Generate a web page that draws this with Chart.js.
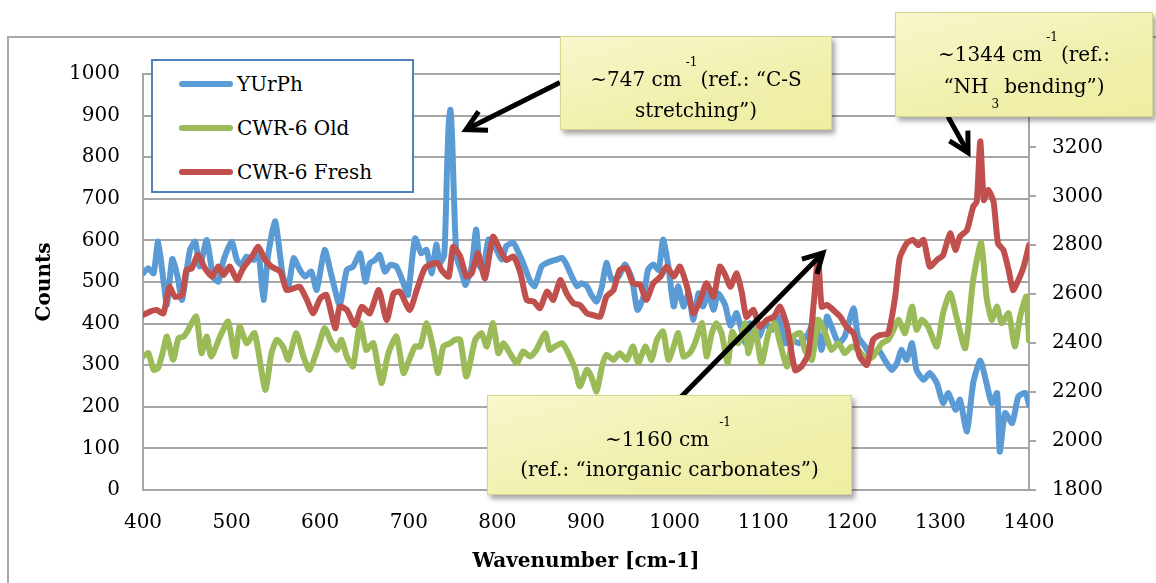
<!DOCTYPE html>
<html>
<head>
<meta charset="utf-8">
<script src="https://cdn.jsdelivr.net/npm/chart.js@4.4.1/dist/chart.umd.min.js"></script>
<style>
html,body{margin:0;padding:0;background:#fff;}
#wrap{position:relative;width:1156px;height:583px;overflow:hidden;font-family:'DejaVu Serif',serif;color:#000;}
#frame{position:absolute;left:7px;top:36px;width:1300px;height:700px;border:2px solid #a9a9a9;}
#c{position:absolute;left:0;top:0;}
.legend{position:absolute;left:151px;top:59px;width:259px;height:130px;border:2px solid #4f81bd;background:#fff;}
.item{position:absolute;left:26px;height:24px;font-size:20px;line-height:24px;width:230px;}
.sw{position:absolute;left:0;top:9px;width:54px;height:6px;border-radius:3px;}
.item span{position:absolute;left:58px;white-space:nowrap;}
.note{position:absolute;box-sizing:border-box;background:linear-gradient(165deg,#f7f7cc 0%,#f0f0ad 60%,#eeeea2 100%);border:1px solid #d6d690;box-shadow:3px 4px 5px rgba(0,0,0,0.35);font-size:20px;text-align:center;white-space:nowrap;}
.sup{position:relative;top:-20px;font-size:12px;margin:0 3px 0 4px;}
.sub{position:relative;top:15px;font-size:12px;margin:0 5px 0 3px;}
</style>
</head>
<body>
<div id="wrap">
  <div id="frame"></div>
  <canvas id="c" width="1156" height="583"></canvas>
  <div class="legend" id="legend"></div>
  <div class="note" style="left:560px;top:36px;width:272px;height:94px;padding-top:28px;line-height:28px;">
    <div>~747 cm<span class="sup">-1</span>(ref.: “C-S</div>
    <div>stretching”)</div>
  </div>
  <div class="note" style="left:895px;top:12px;width:258px;height:105px;padding-top:27px;line-height:29px;">
    <div>~1344 cm<span class="sup">-1</span>(ref.:</div>
    <div>“NH<span class="sub">3</span>bending”)</div>
  </div>
  <div class="note" style="left:487px;top:395px;width:365px;height:100px;padding-top:30px;line-height:27px;">
    <div>~1160 cm<span class="sup" style="margin-left:10px">-1</span></div>
    <div>(ref.: “inorganic carbonates”)</div>
  </div>
</div>
<script>
// ---- data: [wavenumber, counts] ----
const seriesNames = ['YUrPh', 'CWR-6 Old', 'CWR-6 Fresh'];
const seriesColors = ['#5b9bd5', '#9bbb59', '#c0504d'];

const yurphSpectrum = [[400,521],[406,533],[412,521],[417,597],[423,505],[427,445],[433,555],[439,513],[444,457],[453,577],[459,597],[464,537],[472,601],[479,513],[485,501],[491,553],[500,597],[506,553],[511,541],[517,561],[525,553],[530,577],[536,457],[541,561],[549,646],[554,577],[558,513],[564,489],[570,557],[577,529],[583,513],[590,525],[596,481],[605,577],[613,513],[622,445],[630,529],[637,537],[645,569],[651,501],[656,545],[662,553],[667,565],[673,525],[679,541],[686,537],[694,497],[699,469],[707,605],[714,569],[720,577],[726,521],[731,590],[735,546],[740,565],[743,760],[745,880],[747,914],[749,840],[751,700],[754,560],[760,521],[764,493],[771,538],[776,626],[780,538],[784,530],[790,602],[797,586],[805,554],[810,586],[818,594],[824,570],[829,546],[837,502],[842,490],[850,538],[856,546],[861,550],[867,554],[873,558],[878,542],[884,513],[890,490],[895,497],[901,490],[906,469],[912,453],[918,490],[923,546],[929,506],[937,514],[944,542],[952,506],[958,433],[965,465],[970,529],[976,542],[982,529],[987,602],[993,538],[999,441],[1004,490],[1010,441],[1016,473],[1021,409],[1027,473],[1032,441],[1038,473],[1044,433],[1049,473],[1057,445],[1063,395],[1070,425],[1080,353],[1085,401],[1095,369],[1102,401],[1110,385],[1117,417],[1125,353],[1132,361],[1140,353],[1145,361],[1151,377],[1158,409],[1166,337],[1172,417],[1177,393],[1185,353],[1192,369],[1202,437],[1207,369],[1215,345],[1222,321],[1230,337],[1237,313],[1245,289],[1251,305],[1256,337],[1262,313],[1268,353],[1273,289],[1281,265],[1288,281],[1296,257],[1303,209],[1309,233],[1317,193],[1322,217],[1330,141],[1337,257],[1345,311],[1352,257],[1358,209],[1364,233],[1367,92],[1373,185],[1381,161],[1388,225],[1396,233],[1400,205]];

const cwrOldSpectrum = [[400,321],[406,329],[412,289],[417,293],[423,337],[427,369],[434,313],[440,365],[446,369],[451,385],[460,417],[466,329],[472,369],[477,321],[487,369],[496,405],[504,321],[509,393],[517,353],[526,377],[538,241],[545,329],[551,361],[558,345],[564,313],[573,377],[581,321],[588,289],[598,345],[605,389],[613,353],[619,337],[624,361],[630,321],[637,297],[645,401],[652,337],[660,353],[669,257],[677,329],[686,369],[694,281],[699,305],[707,345],[713,345],[720,401],[728,337],[733,281],[739,345],[747,353],[752,361],[758,361],[765,273],[775,361],[782,377],[788,345],[795,401],[801,329],[807,353],[814,329],[822,305],[829,333],[837,321],[844,337],[854,377],[859,337],[865,345],[873,353],[880,329],[888,289],[893,249],[901,289],[906,273],[912,237],[918,297],[923,325],[931,313],[938,329],[946,313],[953,345],[959,305],[967,345],[974,313],[980,361],[987,381],[993,313],[999,345],[1004,377],[1010,321],[1017,329],[1023,353],[1031,401],[1036,321],[1042,377],[1047,401],[1053,377],[1060,305],[1065,380],[1072,353],[1080,401],[1083,329],[1091,385],[1098,305],[1106,377],[1113,401],[1119,353],[1127,297],[1134,369],[1142,377],[1147,337],[1155,313],[1162,409],[1170,377],[1177,337],[1185,353],[1192,329],[1200,345],[1207,337],[1217,313],[1224,321],[1234,353],[1241,361],[1247,385],[1253,409],[1260,377],[1268,441],[1273,385],[1279,409],[1286,393],[1296,345],[1303,425],[1311,473],[1318,417],[1328,341],[1337,505],[1346,594],[1352,465],[1358,409],[1364,441],[1369,401],[1377,425],[1384,345],[1390,417],[1397,465],[1400,360]];

const cwrFreshSpectrum = [[400,2515],[408,2529],[415,2536],[423,2522],[427,2590],[430,2631],[436,2590],[444,2597],[449,2699],[455,2706],[462,2760],[470,2706],[478,2672],[485,2713],[491,2679],[498,2713],[506,2658],[513,2706],[523,2754],[530,2794],[538,2740],[545,2713],[555,2692],[562,2617],[570,2624],[577,2631],[585,2577],[592,2522],[600,2583],[607,2597],[617,2461],[622,2549],[630,2536],[639,2474],[647,2549],[656,2522],[666,2617],[675,2495],[683,2604],[690,2610],[701,2536],[709,2617],[718,2706],[728,2726],[733,2726],[737,2699],[745,2672],[750,2794],[758,2754],[765,2672],[771,2686],[778,2767],[786,2665],[795,2835],[803,2781],[810,2740],[818,2754],[826,2686],[833,2577],[841,2570],[848,2543],[856,2611],[863,2577],[871,2658],[878,2604],[886,2563],[893,2556],[901,2522],[908,2515],[916,2508],[923,2590],[931,2617],[938,2699],[946,2706],[953,2645],[961,2638],[968,2577],[976,2645],[984,2672],[991,2713],[999,2672],[1006,2713],[1014,2631],[1021,2522],[1029,2577],[1036,2645],[1044,2590],[1051,2713],[1057,2680],[1063,2631],[1070,2685],[1076,2604],[1081,2508],[1089,2536],[1096,2467],[1104,2495],[1112,2508],[1119,2549],[1127,2467],[1136,2290],[1143,2304],[1151,2358],[1157,2563],[1162,2750],[1166,2549],[1172,2556],[1179,2536],[1187,2508],[1194,2467],[1202,2440],[1209,2345],[1217,2311],[1224,2413],[1232,2433],[1241,2440],[1249,2590],[1254,2747],[1262,2808],[1269,2822],[1275,2801],[1281,2822],[1288,2713],[1296,2740],[1303,2760],[1311,2849],[1317,2781],[1322,2835],[1330,2862],[1337,2958],[1341,2978],[1345,3225],[1349,2985],[1354,3026],[1360,2978],[1365,2808],[1371,2781],[1377,2699],[1382,2617],[1388,2658],[1394,2713],[1400,2800]];

// axis ranges / ticks
const xRange = [400, 1400, 100];
const countsRange = [0, 1000, 100];
const freshRange = [1800, 3500, 200];
const xTitle = 'Wavenumber [cm-1]';
const yTitle = 'Counts';

// annotation arrows in data units (wavenumber, counts on left axis)
const arrows = [
  {from:[870.6, 979.5], to:[764.6, 866.4]},
  {from:[1308.6, 897.6], to:[1331.2, 811]},
  {from:[1006, 221], to:[1167.5, 570]}
];

// ---- legend (HTML) ----
const legendEl = document.getElementById('legend');
const legendTops = [11, 55, 99];
seriesNames.forEach((n, i) => {
  const d = document.createElement('div');
  d.className = 'item';
  d.style.top = legendTops[i] + 'px';
  d.innerHTML = '<div class="sw" style="background:' + seriesColors[i] + '"></div><span>' + n + '</span>';
  legendEl.appendChild(d);
});

const toPts = arr => arr.map(p => ({x: p[0], y: p[1]}));
const plainNum = v => String(v);
const tickFont = {family: "'DejaVu Serif', serif", size: 20};
const titleFont = {family: "'DejaVu Serif', serif", size: 20, weight: 'bold'};
const gridGray = '#a6a6a6';

const arrowPlugin = {
  id: 'arrows',
  afterDraw(chart) {
    const {ctx} = chart;
    const xs = chart.scales.x, ys = chart.scales.y;
    ctx.save();
    ctx.strokeStyle = '#000';
    ctx.lineWidth = 5;
    ctx.lineCap = 'butt';
    ctx.lineJoin = 'miter';
    arrows.forEach(a => {
      const x1 = xs.getPixelForValue(a.from[0]), y1 = ys.getPixelForValue(a.from[1]);
      const x2 = xs.getPixelForValue(a.to[0]), y2 = ys.getPixelForValue(a.to[1]);
      const ang = Math.atan2(y1 - y2, x1 - x2);
      ctx.beginPath();
      ctx.moveTo(x1, y1);
      ctx.lineTo(x2 + Math.cos(ang) * 3, y2 + Math.sin(ang) * 3);
      ctx.stroke();
      const hl = 22, ha = 0.5;
      ctx.beginPath();
      ctx.moveTo(x2 + Math.cos(ang + ha) * hl, y2 + Math.sin(ang + ha) * hl);
      ctx.lineTo(x2, y2);
      ctx.lineTo(x2 + Math.cos(ang - ha) * hl, y2 + Math.sin(ang - ha) * hl);
      ctx.stroke();
    });
    ctx.restore();
  }
};

const lineStyle = {borderWidth: 6, pointRadius: 2.5, pointHoverRadius: 2.5, pointBorderWidth: 0, tension: 0.2, borderJoinStyle: 'round', borderCapStyle: 'round'};

new Chart(document.getElementById('c'), {
  type: 'line',
  data: {
    datasets: [
      Object.assign({label: seriesNames[0], data: toPts(yurphSpectrum), borderColor: seriesColors[0], backgroundColor: seriesColors[0], yAxisID: 'y', order: 3}, lineStyle),
      Object.assign({label: seriesNames[1], data: toPts(cwrOldSpectrum), borderColor: seriesColors[1], backgroundColor: seriesColors[1], yAxisID: 'y', order: 2}, lineStyle),
      Object.assign({label: seriesNames[2], data: toPts(cwrFreshSpectrum), borderColor: seriesColors[2], backgroundColor: seriesColors[2], yAxisID: 'y2', order: 1}, lineStyle)
    ]
  },
  options: {
    responsive: false,
    animation: false,
    layout: {padding: {top: 74, left: 0, right: 0, bottom: 0}},
    plugins: {legend: {display: false}, tooltip: {enabled: false}},
    scales: {
      x: {
        type: 'linear', min: xRange[0], max: xRange[1],
        ticks: {stepSize: xRange[2], font: tickFont, color: '#000', padding: 21, maxRotation: 0, callback: plainNum},
        grid: {display: false, drawTicks: false},
        border: {display: true, color: gridGray, width: 2},
        title: {display: true, text: xTitle, font: titleFont, color: '#000', padding: {top: 4, bottom: 9}},
        afterFit(s) { s.height = 93; }
      },
      y: {
        position: 'left', min: countsRange[0], max: countsRange[1],
        ticks: {stepSize: countsRange[2], font: tickFont, color: '#000', padding: 23, callback: plainNum},
        grid: {color: gridGray, lineWidth: 2, drawTicks: false},
        border: {display: true, color: gridGray, width: 2},
        title: {display: true, text: yTitle, font: titleFont, color: '#000', padding: {top: 33, bottom: 4}},
        afterFit(s) { s.width = 143; }
      },
      y2: {
        position: 'right', min: freshRange[0], max: freshRange[1],
        ticks: {stepSize: freshRange[2], font: tickFont, color: '#000', padding: 16, includeBounds: false, callback: plainNum},
        grid: {drawOnChartArea: false, color: gridGray, lineWidth: 2, tickLength: 7},
        border: {display: true, color: gridGray, width: 2},
        afterFit(s) { s.width = 127; }
      }
    }
  },
  plugins: [arrowPlugin]
});
</script>
</body>
</html>
